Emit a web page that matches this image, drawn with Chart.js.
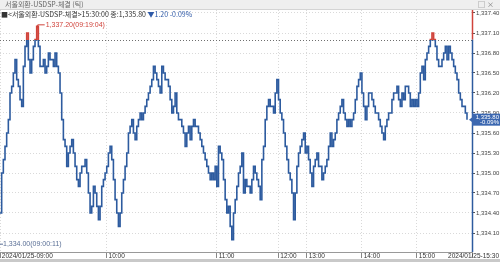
<!DOCTYPE html>
<html>
<head>
<meta charset="utf-8">
<script src="https://cdn.jsdelivr.net/npm/chart.js@4.4.1/dist/chart.umd.min.js"></script>
<style>
  html, body { margin: 0; padding: 0; background: #fff; }
  #wrap { position: relative; width: 500px; height: 262px; overflow: hidden;
    font-family: "Noto Sans CJK KR", "Liberation Sans", sans-serif; }
  #chart { position: absolute; left: 0; top: 0; }
  #title { position: absolute; left: 0; top: 0; width: 500px; height: 9px; background: #efefef;
    border-bottom: 1px solid #d4d4d4; font-size: 7px; line-height: 9px; color: #666; }
  #title .name { position: absolute; left: 5px; top: 0; }
  #title .icons { position: absolute; right: 4px; top: 0; color: #777; letter-spacing: 2px; }
  #legend { position: absolute; left: 1px; top: 10px; font-size: 7px; line-height: 8px; color: #333; white-space: nowrap; }
  #legend .chg { color: #2f5aa8; }
  #bottombar { position: absolute; left: 0; top: 259px; width: 500px; height: 3px; background: #c9c9c9; }
</style>
</head>
<body>
<div id="wrap">
  <canvas id="chart" width="500" height="262"></canvas>
  <div id="title"><span class="name">서울외환-USDSP-체결 (틱)</span><span class="icons">□×</span></div>
  <div id="legend">■&lt;서울외환-USDSP-체결&gt;15:30:00 종:1,335.80 <span class="chg">▼1.20 -0.09%</span></div>
  <div id="bottombar"></div>
</div>
<script>
// tick-by-tick prices left to right
const priceTicks = [
  1334.4, 1335.0, 1335.2, 1335.4, 1335.6, 1335.8, 1336.2, 1336.3, 1336.5, 1336.7,
  1336.4, 1336.3, 1336.1, 1336.0, 1336.6, 1336.9, 1337.1, 1336.7, 1336.5, 1336.7,
  1336.9, 1337.0, 1337.2, 1336.9, 1336.6, 1336.6, 1336.7, 1336.5, 1336.6, 1336.8,
  1336.7, 1336.7, 1336.6, 1336.8, 1336.6, 1336.5, 1336.2, 1335.8, 1335.5, 1335.4,
  1335.1, 1335.3, 1335.4, 1335.5, 1335.3, 1335.1, 1334.9, 1334.8, 1335.0, 1335.1,
  1335.1, 1335.2, 1335.0, 1334.7, 1334.4, 1334.5, 1334.8, 1334.7, 1334.5, 1334.3,
  1334.5, 1334.8, 1334.9, 1335.0, 1335.1, 1335.3, 1335.4, 1335.2, 1334.9, 1334.6,
  1334.4, 1334.2, 1334.4, 1334.7, 1334.9, 1335.1, 1335.3, 1335.6, 1335.7, 1335.8,
  1335.6, 1335.5, 1335.7, 1335.8, 1335.9, 1335.8, 1335.9, 1336.0, 1336.1, 1336.2,
  1336.3, 1336.4, 1336.6, 1336.5, 1336.4, 1336.3,
  1336.2, 1336.6, 1336.5, 1336.4, 1336.4, 1336.3, 1336.1, 1335.9, 1336.0, 1336.2,
  1335.9, 1335.8, 1335.8, 1335.7, 1335.6, 1335.4, 1335.6, 1335.7, 1335.5, 1335.7,
  1335.8, 1335.7, 1335.7, 1335.6, 1335.5, 1335.4, 1335.3, 1335.2, 1335.1, 1335.0,
  1334.9, 1335.0, 1334.9, 1335.1, 1334.8, 1335.4, 1335.3, 1335.2, 1334.9, 1334.6,
  1334.4, 1334.5, 1334.2, 1334.0, 1334.4, 1334.6, 1334.8, 1335.0, 1335.1, 1335.3,
  1334.7, 1334.9, 1334.8, 1334.8, 1334.7, 1334.9, 1335.1, 1335.0, 1334.9, 1334.8,
  1334.6, 1335.2, 1335.4, 1335.8, 1336.0, 1336.1, 1336.0, 1336.0, 1335.9, 1336.2,
  1336.4, 1336.1, 1335.9, 1335.8, 1335.6, 1335.4, 1335.2, 1335.0, 1334.9, 1334.7,
  1334.3, 1334.7, 1335.1, 1335.3, 1335.4, 1335.5, 1335.6, 1335.3, 1335.4, 1335.2,
  1335.0, 1334.8, 1335.1,
  1335.2, 1335.3, 1335.1, 1335.1, 1334.9, 1335.0, 1335.1, 1335.2, 1335.4, 1335.6,
  1335.4, 1335.5, 1335.6, 1335.8, 1335.9, 1336.0, 1336.1, 1335.9, 1335.8, 1335.7,
  1335.8, 1335.7, 1335.8, 1335.9, 1336.1, 1336.3, 1336.4, 1336.5, 1336.2, 1336.0,
  1335.8, 1336.0, 1336.2, 1336.2, 1336.1, 1336.0, 1335.9, 1335.9, 1335.8, 1335.7,
  1335.6, 1335.5, 1335.7, 1335.8, 1335.9, 1335.9, 1336.1, 1336.2, 1336.2, 1336.3,
  1336.1, 1336.0, 1336.2, 1336.1, 1336.3, 1336.3, 1336.2, 1336.0, 1336.1, 1336.0,
  1336.1, 1336.0, 1336.2, 1336.5, 1336.6, 1336.4, 1336.7, 1336.8, 1336.9, 1337.0,
  1337.1, 1337.0, 1336.9, 1336.7, 1336.6, 1336.6, 1336.7, 1336.8, 1336.9, 1336.7,
  1336.9, 1336.8, 1336.7, 1336.6, 1336.5, 1336.4, 1336.2, 1336.1, 1336.0, 1336.0,
  1335.9, 1335.8
];

// time axis: labels and the tick index where each hour starts
const hourLabels = ["2024/01/25-09:00", "10:00", "11:00", "12:00", "13:00", "14:00", "15:00", "2024/01/25-15:30"];
const hourTickIndex = [0, 64, 130, 167, 184, 217, 250, 283];

const yTickValues = [1334.10, 1334.40, 1334.70, 1335.00, 1335.30, 1335.60, 1335.90, 1336.20, 1336.50, 1336.80, 1337.10, 1337.40];

const prevClose = 1337.00;
const closePrice = 1335.80;
const closeChange = "-0.09%";
const highPrice = 1337.20;
const highTime = "09:19:04";
const lowPrice = 1334.00;
const lowTime = "09:00:11";

const BLUE = "#2d5b9f";
const RED = "#d0433b";
const FONT = "'Liberation Sans', 'Noto Sans CJK KR', sans-serif";

const fmt = (v) => v.toLocaleString("en-US", { minimumFractionDigits: 2, maximumFractionDigits: 2 });

// red above previous close, blue below
function lineColor(context) {
  const chart = context.chart;
  const area = chart.chartArea;
  if (!area) return BLUE;
  const yp = chart.scales.y.getPixelForValue(prevClose);
  const f = Math.min(1, Math.max(0, (yp - area.top) / (area.bottom - area.top)));
  const g = chart.ctx.createLinearGradient(0, area.top, 0, area.bottom);
  g.addColorStop(0, RED);
  g.addColorStop(f, RED);
  g.addColorStop(f, BLUE);
  g.addColorStop(1, BLUE);
  return g;
}

const overlay = {
  id: "overlay",
  beforeDatasetsDraw(chart) {
    const { ctx, chartArea: a, scales } = chart;
    const yp = Math.round(scales.y.getPixelForValue(prevClose)) + 0.5;
    ctx.save();
    ctx.strokeStyle = "#6f6f6f";
    ctx.lineWidth = 1;
    ctx.setLineDash([1, 2]);
    ctx.beginPath();
    ctx.moveTo(a.left, yp);
    ctx.lineTo(a.right, yp);
    ctx.stroke();
    ctx.restore();
  },
  afterDraw(chart) {
    const { ctx, chartArea: a, scales } = chart;
    const x = scales.x, y = scales.y;
    ctx.save();

    // right axis line, red part above prev close
    const yp = y.getPixelForValue(prevClose);
    ctx.lineWidth = 1.5;
    ctx.strokeStyle = RED;
    ctx.beginPath();
    ctx.moveTo(a.right + 0.5, a.top - 1);
    ctx.lineTo(a.right + 0.5, yp);
    ctx.stroke();
    ctx.strokeStyle = BLUE;
    ctx.beginPath();
    ctx.moveTo(a.right + 0.5, yp);
    ctx.lineTo(a.right + 0.5, a.bottom);
    ctx.stroke();

    // high marker
    const hi = priceTicks.indexOf(highPrice);
    const hx = x.getPixelForValue(hi), hy = y.getPixelForValue(highPrice);
    ctx.strokeStyle = RED;
    ctx.lineWidth = 1;
    ctx.beginPath();
    ctx.moveTo(hx + 1, hy + 2);
    ctx.lineTo(hx + 1, hy - 1.5);
    ctx.lineTo(hx + 8, hy - 1.5);
    ctx.stroke();
    ctx.fillStyle = RED;
    ctx.font = "7px " + FONT;
    ctx.textBaseline = "middle";
    ctx.textAlign = "left";
    ctx.fillText(fmt(highPrice) + "(" + highTime + ")", hx + 9, hy - 1.5);

    // low marker
    const ly = y.getPixelForValue(lowPrice);
    ctx.strokeStyle = "#5a6f96";
    ctx.beginPath();
    ctx.moveTo(a.left, ly + 4.5);
    ctx.lineTo(a.left + 3, ly + 4.5);
    ctx.stroke();
    ctx.fillStyle = "#5a6f96";
    ctx.fillText(fmt(lowPrice) + "(" + lowTime + ")", a.left + 3, ly + 4.5);

    // close price box
    const cy = y.getPixelForValue(closePrice);
    ctx.fillStyle = "#3b67b0";
    ctx.fillRect(a.right, cy - 6, 500 - a.right, 12);
    ctx.beginPath();
    ctx.moveTo(a.right - 3, cy);
    ctx.lineTo(a.right + 1, cy - 3);
    ctx.lineTo(a.right + 1, cy + 3);
    ctx.fill();
    ctx.fillStyle = "#fff";
    ctx.font = "6px " + FONT;
    ctx.textAlign = "right";
    ctx.fillText(fmt(closePrice), 499, cy - 2.5);
    ctx.fillText(closeChange, 499, cy + 3);

    // last time label, right aligned to the window
    ctx.fillStyle = "#333";
    ctx.font = "6.5px " + FONT;
    ctx.textBaseline = "top";
    ctx.fillText(hourLabels[hourLabels.length - 1], 499, a.bottom + 1);
    ctx.restore();
  }
};

const ctx = document.getElementById("chart").getContext("2d");
new Chart(ctx, {
  type: "line",
  data: {
    datasets: [{
      data: priceTicks.map((v, i) => ({ x: i, y: v })),
      stepped: true,
      borderWidth: 1.6,
      pointRadius: 0,
      borderColor: lineColor,
      fill: false
    }]
  },
  options: {
    responsive: false,
    animation: false,
    layout: { padding: { top: 10, left: 0, right: 0, bottom: 0 } },
    plugins: { legend: { display: false }, tooltip: { enabled: false } },
    scales: {
      x: {
        type: "linear",
        min: 0,
        max: 283,
        afterBuildTicks: (s) => { s.ticks = hourTickIndex.map((v) => ({ value: v })); },
        afterFit: (s) => { s.height = 10; },
        ticks: {
          autoSkip: false,
          maxRotation: 0,
          align: "start",
          padding: -6,
          color: "#333",
          font: { size: 6.5, family: FONT },
          callback: (v, i) => (i === hourLabels.length - 1 ? "" : " " + hourLabels[i])
        },
        grid: { color: "#d9d9d9", tickColor: "#888", tickLength: 6, tickBorderDash: [] },
        border: { display: true, color: "#999", dash: [1, 2] }
      },
      y: {
        position: "right",
        min: 1333.815,
        max: 1337.445,
        afterBuildTicks: (s) => { s.ticks = yTickValues.map((v) => ({ value: v })); },
        afterFit: (s) => { s.width = 28; },
        ticks: {
          padding: 1,
          color: "#444",
          font: { size: 6, family: FONT },
          callback: (v) => fmt(v)
        },
        grid: { color: "#d9d9d9", tickColor: "#555", tickLength: 3, tickBorderDash: [] },
        border: { display: false, dash: [1, 2] }
      }
    }
  },
  plugins: [overlay]
});
</script>
</body>
</html>
